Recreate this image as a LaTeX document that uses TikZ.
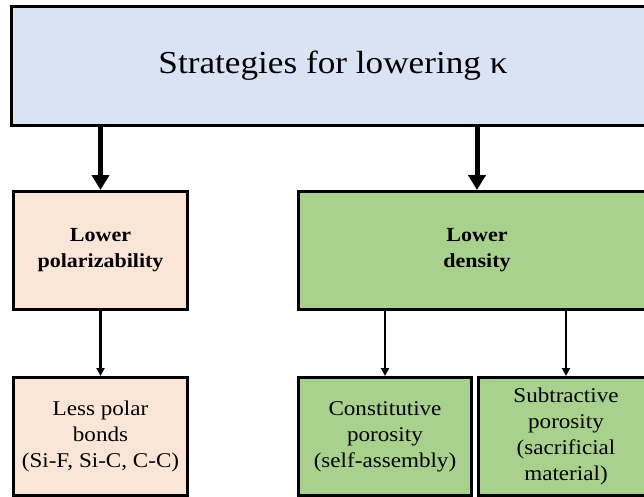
\documentclass[tikz,border=0pt]{standalone}
\usepackage{fontspec}
\setmainfont{Liberation Serif}[FakeStretch=1.1]
\usetikzlibrary{arrows.meta}
\definecolor{topblue}{HTML}{DAE3F3}
\definecolor{peach}{HTML}{FBE5D6}
\definecolor{leaf}{HTML}{A9D18E}
\begin{document}
\begin{tikzpicture}[x=1pt,y=-1pt,
  box/.style={draw=black, line width=3pt, rectangle, align=center, inner sep=0pt,
    font=\fontsize{21}{26}\selectfont, text=black},
  bluebox/.style={box, fill=topblue, font=\fontsize{32}{38}\selectfont},
  peachbox/.style={box, fill=peach},
  leafbox/.style={box, fill=leaf},
  boldtext/.style={font=\fontsize{20}{26}\selectfont\bfseries},
  bigarrow/.style={draw=black, line width=5pt, -{Triangle[width=17pt,length=15pt]}},
  smallarrow/.style={draw=black, line width=2.2pt, -{Triangle[width=8pt,length=8pt]}}
]
\useasboundingbox (0,0) rectangle (644,497);
\fill[white] (0,0) rectangle (644,497);
\clip (0,0) rectangle (644,497);

\node[bluebox, minimum width=643pt, minimum height=119pt] (top) at (333,66) {Strategies for lowering κ};

\node[peachbox, boldtext, minimum width=174pt, minimum height=118pt] (pol) at (100.5,250.5) {Lower\\polarizability};
\node[leafbox, boldtext, minimum width=357pt, minimum height=118pt] (den) at (477,250.5) {Lower\\density};

\node[peachbox, minimum width=174pt, minimum height=118pt] (bonds) at (100.5,436.5) {Less polar\\bonds\\(Si-F, Si-C, C-C)};
\node[leafbox, minimum width=173pt, minimum height=118pt] (const) at (385,436.5) {Constitutive\\porosity\\(self-assembly)};
\node[leafbox, minimum width=175pt, minimum height=118pt] (subt) at (566,436.5) {Subtractive\\porosity\\(sacrificial\\material)};

\draw[bigarrow] (pol.north |- top.south) -- (pol.north);
\draw[bigarrow] (den.north |- top.south) -- (den.north);
\draw[smallarrow] (pol.south) -- (bonds.north);
\draw[smallarrow] (const.north |- den.south) -- (const.north);
\draw[smallarrow] (subt.north |- den.south) -- (subt.north);
\end{tikzpicture}
\end{document}
